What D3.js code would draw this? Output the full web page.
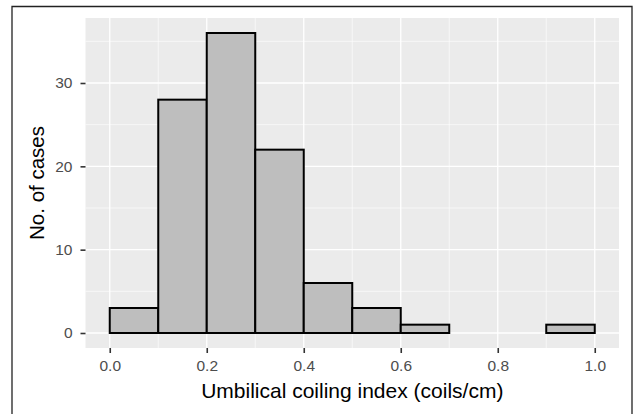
<!DOCTYPE html>
<meta charset="utf-8">
<style>
body { margin: 0; background: #fff; }
text { font-family: Arial, "Liberation Sans", sans-serif; }
.tick text { font-size: 15.5px; fill: #4D4D4D; }
</style>
<svg width="633" height="414"></svg>
<script src="https://d3js.org/d3.v7.min.js"></script>
<script>

// histogram bins (coils/cm) and counts
var binStart = [0.0, 0.1, 0.2, 0.3, 0.4, 0.5, 0.6, 0.7, 0.8, 0.9],
    binEnd   = [0.1, 0.2, 0.3, 0.4, 0.5, 0.6, 0.7, 0.8, 0.9, 1.0],
    counts   = [3, 28, 36, 22, 6, 3, 1, 0, 0, 1];

var xTicks = [0, 0.2, 0.4, 0.6, 0.8, 1.0],
    xMinor = [0.1, 0.3, 0.5, 0.7, 0.9],
    yTicks = [0, 10, 20, 30],
    yMinor = [5, 15, 25, 35];

var svg = d3.select("svg");

// outer frame (bottom edge runs off the image)
svg.append("path")
    .attr("d", "M12,414V6.5H632V414")
    .attr("fill", "none")
    .attr("stroke", "#222")
    .attr("stroke-width", 1.3);

var x = d3.scaleLinear().domain([-0.05, 1.05]).range([85.5, 619]),
    y = d3.scaleLinear().domain([-1.8, 37.8]).range([348, 18]);

var panel = svg.append("g");

panel.append("rect")
    .attr("x", x(-0.05))
    .attr("y", y(37.8))
    .attr("width", x(1.05) - x(-0.05))
    .attr("height", y(-1.8) - y(37.8))
    .attr("fill", "#EBEBEB");

// minor grid
panel.selectAll(".xminor").data(xMinor).enter().append("line")
    .attr("x1", d => x(d)).attr("x2", d => x(d))
    .attr("y1", y(-1.8)).attr("y2", y(37.8))
    .attr("stroke", "#fff").attr("stroke-width", 0.6);
panel.selectAll(".yminor").data(yMinor).enter().append("line")
    .attr("y1", d => y(d)).attr("y2", d => y(d))
    .attr("x1", x(-0.05)).attr("x2", x(1.05))
    .attr("stroke", "#fff").attr("stroke-width", 0.6);

// major grid
panel.selectAll(".xmajor").data(xTicks).enter().append("line")
    .attr("x1", d => x(d)).attr("x2", d => x(d))
    .attr("y1", y(-1.8)).attr("y2", y(37.8))
    .attr("stroke", "#fff").attr("stroke-width", 1.3);
panel.selectAll(".ymajor").data(yTicks).enter().append("line")
    .attr("y1", d => y(d)).attr("y2", d => y(d))
    .attr("x1", x(-0.05)).attr("x2", x(1.05))
    .attr("stroke", "#fff").attr("stroke-width", 1.3);

// bars
panel.selectAll(".bar").data(counts).enter().append("rect")
    .attr("x", (d, i) => x(binStart[i]))
    .attr("y", d => y(d))
    .attr("width", (d, i) => x(binEnd[i]) - x(binStart[i]))
    .attr("height", d => y(0) - y(d))
    .attr("fill", "#BEBEBE")
    .attr("stroke", "#000")
    .attr("stroke-width", 2);

// axes
var xAxis = svg.append("g")
    .attr("transform", "translate(0," + y(-1.8) + ")")
    .call(d3.axisBottom(x).tickValues(xTicks).tickFormat(d3.format(".1f"))
        .tickSize(5).tickPadding(7));
var yAxis = svg.append("g")
    .attr("transform", "translate(" + x(-0.05) + ",0)")
    .call(d3.axisLeft(y).tickValues(yTicks).tickSize(5).tickPadding(8));

[xAxis, yAxis].forEach(function(a) {
  a.select(".domain").remove();
  a.selectAll(".tick line").attr("stroke", "#333").attr("stroke-width", 1.6);
});

svg.append("text")
    .attr("x", (x(-0.05) + x(1.05)) / 2)
    .attr("y", 398)
    .attr("text-anchor", "middle")
    .attr("font-size", 21)
    .attr("fill", "#000")
    .text("Umbilical coiling index (coils/cm)");

svg.append("text")
    .attr("transform", "translate(44," + ((y(-1.8) + y(37.8)) / 2) + ") rotate(-90)")
    .attr("text-anchor", "middle")
    .attr("font-size", 20.5)
    .attr("fill", "#000")
    .text("No. of cases");

</script>
